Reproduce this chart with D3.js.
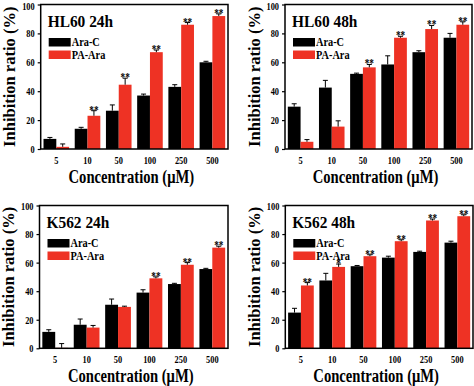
<!DOCTYPE html>
<html><head><meta charset="utf-8">
<script src="https://cdn.jsdelivr.net/npm/d3@7"></script>
<style>
html,body{margin:0;padding:0;background:#fff;}
svg text{font-family:"Liberation Serif",serif;font-weight:bold;fill:#000;}
</style></head>
<body><svg id="c" width="474" height="386"></svg>
<script>
const categories = ["5","10","50","100","250","500"];
const yTicks = [0,20,40,60,80,100];
const seriesNames = ["Ara-C","PA-Ara"];

const hl60_24h_araC = [7, 14, 26.5, 37, 43, 60];
const hl60_24h_araC_err = [1, 1, 4, 1, 1.5, 0.7];
const hl60_24h_paAra = [1.5, 23, 44.5, 67, 86, 92];
const hl60_24h_paAra_err = [2, 3.5, 4.5, 1.5, 1.5, 1.5];
const hl60_24h_sig = ["", "**", "**", "**", "**", "**"];

const hl60_48h_araC = [29.3, 42.5, 52, 58.5, 67, 77];
const hl60_48h_araC_err = [2, 5, 0.5, 6, 1, 3];
const hl60_48h_paAra = [5, 15.5, 56.5, 77, 83, 86];
const hl60_48h_paAra_err = [1.5, 4, 2, 1, 2.5, 2];
const hl60_48h_sig = ["", "", "**", "**", "**", "**"];

const k562_24h_araC = [11.5, 16.5, 30.5, 39, 45, 55.5];
const k562_24h_araC_err = [1.5, 4, 4, 2, 0.5, 0.5];
const k562_24h_paAra = [0.3, 14.5, 29, 49, 58.5, 70.5];
const k562_24h_paAra_err = [3, 1.5, 0.5, 1, 1.5, 1];
const k562_24h_sig = ["", "", "", "**", "**", "**"];

const k562_48h_araC = [25, 47.5, 57.5, 63.5, 67.5, 74];
const k562_48h_araC_err = [3, 5, 0.5, 1, 0.5, 1];
const k562_48h_paAra = [44, 57, 64.5, 75, 89.5, 92.5];
const k562_48h_paAra_err = [2, 2, 1, 1, 1, 1];
const k562_48h_sig = ["**", "*", "**", "**", "**", "**"];

const panels = [
  {title:"HL60 24h", a:hl60_24h_araC, ae:hl60_24h_araC_err, b:hl60_24h_paAra, be:hl60_24h_paAra_err, sig:hl60_24h_sig, x0:40.7, x1:228, y0:4.5, y1:149},
  {title:"HL60 48h", a:hl60_48h_araC, ae:hl60_48h_araC_err, b:hl60_48h_paAra, be:hl60_48h_paAra_err, sig:hl60_48h_sig, x0:285, x1:472, y0:4.5, y1:149},
  {title:"K562 24h", a:k562_24h_araC, ae:k562_24h_araC_err, b:k562_24h_paAra, be:k562_24h_paAra_err, sig:k562_24h_sig, x0:39.5, x1:228, y0:205.5, y1:348.3},
  {title:"K562 48h", a:k562_48h_araC, ae:k562_48h_araC_err, b:k562_48h_paAra, be:k562_48h_paAra_err, sig:k562_48h_sig, x0:285.3, x1:473, y0:205.5, y1:348.3}
];

const colors = ["#000000", "#ee3224"];
const FONT = "Liberation Serif, serif";
const svg = d3.select("#c");

function label(g, x, y, txt, size, sx, anchor) {
  return g.append("text")
    .attr("transform", `translate(${x},${y}) scale(${sx},1)`)
    .attr("text-anchor", anchor || "start")
    .attr("font-family", FONT).attr("font-weight", "bold")
    .attr("font-size", size).text(txt);
}

panels.forEach(p => {
  const g = svg.append("g");
  const x = d3.scaleBand().domain(categories).range([p.x0, p.x1]).paddingInner(0.18).paddingOuter(0.09);
  const xs = d3.scaleBand().domain([0,1]).range([0, x.bandwidth()]);
  const y = d3.scaleLinear().domain([0,100]).range([p.y1, p.y0]);

  const data = categories.map((c,i)=>[
    {c, s:0, v:p.a[i], e:p.ae[i]},
    {c, s:1, v:p.b[i], e:p.be[i], sig:p.sig[i]}
  ]).flat();

  g.selectAll("rect.bar").data(data).join("rect")
    .attr("x", d=>x(d.c)+xs(d.s))
    .attr("width", xs.bandwidth())
    .attr("y", d=>y(d.v))
    .attr("height", d=>y(0)-y(d.v))
    .attr("fill", d=>colors[d.s]);

  g.selectAll("path.err").data(data).join("path")
    .attr("d", d=>{
      const cx = x(d.c)+xs(d.s)+xs.bandwidth()/2;
      const yt = y(d.v+d.e), yb = y(d.v);
      return `M${cx},${yb}V${yt}M${cx-2.5},${yt}H${cx+2.5}`;
    })
    .attr("stroke", "#000").attr("stroke-width", 1).attr("fill","none");

  data.filter(d=>d.sig).forEach(d=>{
    label(g, x(d.c)+xs(d.s)+xs.bandwidth()/2, y(d.v+d.e)+3, d.sig, 11.5, 0.8, "middle");
  });

  g.append("rect").attr("x",p.x0).attr("y",p.y0).attr("width",p.x1-p.x0).attr("height",p.y1-p.y0)
    .attr("fill","none").attr("stroke","#000").attr("stroke-width",1.5);

  const tsx = 0.76;
  const ya = g.append("g").attr("transform",`translate(${p.x0},0)`)
    .call(d3.axisLeft(y).tickValues(yTicks).tickSize(3).tickPadding(3));
  ya.attr("font-family", FONT);
  ya.select(".domain").remove();
  ya.selectAll("line").attr("stroke-width",1.2);
  ya.selectAll("text").attr("font-size",11).attr("font-weight","bold").attr("fill","#000")
    .attr("x", -6/tsx).attr("transform", `scale(${tsx},1)`)
    .attr("dy", d => (d === 100 && p.y0 < 10) ? "0.45em" : "0.32em");

  const xa = g.append("g").attr("transform",`translate(0,${p.y1})`)
    .call(d3.axisBottom(x).tickSize(0).tickPadding(7));
  xa.attr("font-family", FONT);
  xa.select(".domain").remove();
  xa.selectAll("text").attr("font-size",11).attr("font-weight","bold").attr("fill","#000")
    .attr("transform", `scale(${tsx},1)`);

  label(g, (p.x0+p.x1)/2 - 3, p.y1+34, "Concentration (μM)", 19, 0.77, "middle");
  g.append("text").attr("transform",`translate(${p.x0-25.5},${(p.y0+p.y1)/2}) rotate(-90)`)
    .attr("text-anchor","middle").attr("font-family",FONT).attr("font-weight","bold")
    .attr("font-size",16.5).text("Inhibition ratio (%)");

  label(g, p.x0+7, p.y0+22, p.title, 17.5, 0.88);

  seriesNames.forEach((n,i)=>{
    const ly = p.y0 + 33.5 + i*12.5;
    g.append("rect").attr("x",p.x0+8).attr("y",ly).attr("width",22).attr("height",8.5).attr("fill",colors[i]);
    label(g, p.x0+31, ly+8.2, n, 12, 0.86);
  });
});
</script></body></html>
